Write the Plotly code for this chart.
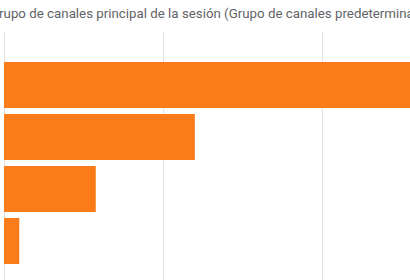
import plotly.graph_objects as go

categories = ["Organic Search", "Direct", "Referral", "Organic Social"]
values = [3100, 1200, 577, 96]
title_text = "Grupo de canales principal de la sesión (Grupo de canales predeterminado)"

fig = go.Figure(go.Bar(
    x=values, y=categories, orientation="h",
    marker=dict(color="#FA7B17", line=dict(width=0)),
))

fig.update_layout(
    width=410, height=280,
    margin=dict(l=4, r=0, t=32, b=0),
    paper_bgcolor="white", plot_bgcolor="white",
    bargap=0.115,
    showlegend=False,
    xaxis=dict(range=[0, 2553], dtick=1000, tick0=0, showgrid=True,
               gridcolor="#e3e3e3", gridwidth=1, zeroline=True,
               zerolinecolor="#e3e3e3", zerolinewidth=1,
               showticklabels=False, ticks="", showline=False),
    yaxis=dict(range=[3.75, -1.019], showgrid=False, showticklabels=False,
               ticks="", showline=False, zeroline=False),
    annotations=[dict(text=title_text, xref="paper", yref="paper",
                      x=-0.039, y=1.073, xanchor="left", yanchor="middle",
                      showarrow=False,
                      font=dict(family="Roboto", size=13.3, color="#5f6368"))],
)

fig.write_html("out.html")
